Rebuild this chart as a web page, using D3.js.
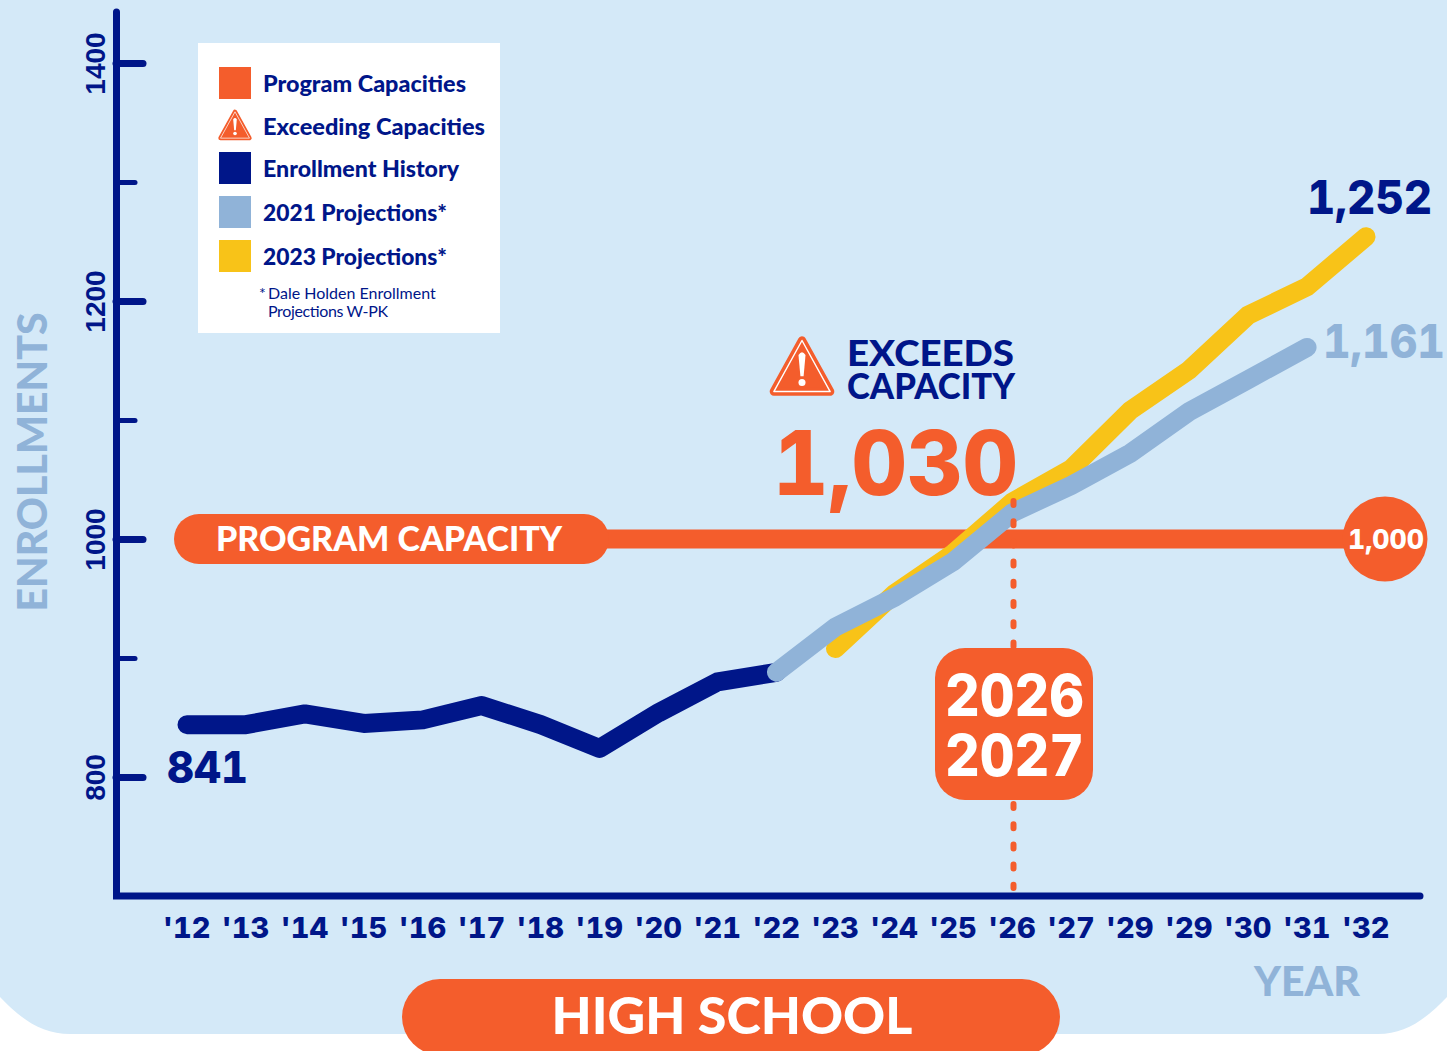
<!DOCTYPE html>
<html><head><meta charset="utf-8">
<script src="https://cdn.jsdelivr.net/npm/d3@7"></script>
<style>
html,body{margin:0;padding:0;background:#fff}
svg{display:block}
text{font-family:Lato,"Open Sans",sans-serif;font-weight:900}
.num{font-family:Inter,Lato,sans-serif;font-weight:800;font-variant-numeric:tabular-nums}
</style></head><body>
<svg id="c" width="1447" height="1051"></svg>
<script>
const yearLabels=["'12","'13","'14","'15","'16","'17","'18","'19","'20","'21","'22","'23","'24","'25","'26","'27","'29","'29","'30","'31","'32"];
const historyIdx=[0,1,2,3,4,5,6,7,8,9,10];
const historyVals=[844,844,853,845,848,860,844,824,854,880,888];
const proj2021Idx=[10,11,12,13,14,15,16,17,18,19];
const proj2021Vals=[888,926,951,981,1022,1045,1072,1107,1134,1161];
const proj2023Idx=[11,12,13,14,15,16,17,18,19,20];
const proj2023Vals=[908,954,988,1031,1059,1108,1142,1188,1212,1254];
const capacity=1000;
const majorTicks=[800,1000,1200,1400];
const minorTicks=[900,1100,1300];
const legendNames=["Program Capacities","Exceeding Capacities","Enrollment History","2021 Projections*","2023 Projections*"];
const NAVY="#001689",ORANGE="#f45d2c",LBLUE="#90b3d8",GOLD="#f8c318",BG="#d4e9f8";
const svg=d3.select("#c");
const x=d3.scaleLinear().domain([0,20]).range([187,1366]);
const y=d3.scaleLinear().domain([800,1400]).range([777,63]);
const line=d3.line().x(d=>x(d[0])).y(d=>y(d[1])).curve(d3.curveLinear);
const zip=(a,b)=>a.map((v,i)=>[v,b[i]]);

function warn(g,cx,top,s){
  const h=s*0.95,w=s/2;
  const n=g.append("g").attr("transform",`translate(${cx},${top})`);
  const tri=`M0 ${h*0.09} L${w*0.88} ${h*0.93} L${-w*0.88} ${h*0.93} Z`;
  n.append("path").attr("d",tri).attr("fill",ORANGE).attr("stroke",ORANGE).attr("stroke-width",s*0.13).attr("stroke-linejoin","round");
  n.append("path").attr("d",tri).attr("fill","none").attr("stroke","#fff").attr("stroke-width",s*0.022).attr("stroke-linejoin","round");
  n.append("path").attr("d",`M${-s*0.055} ${h*0.33} Q0 ${h*0.24} ${s*0.055} ${h*0.33} L${s*0.025} ${h*0.68} L${-s*0.025} ${h*0.68} Z`).attr("fill","#fff");
  n.append("circle").attr("cx",0).attr("cy",h*0.78).attr("r",s*0.055).attr("fill","#fff");
}
const label=(tx,ty,s,fs,fill,cls)=>svg.append("text").attr("x",tx).attr("y",ty).attr("font-size",fs).attr("fill",fill).attr("class",cls||null).text(s);
const fit=(sel,w)=>sel.attr("textLength",w).attr("lengthAdjust","spacingAndGlyphs");

// panel
svg.append("path").attr("d","M0 0H1447V997C1425 1020 1405 1034 1378 1034H70C42 1034 22 1020 0 997Z").attr("fill",BG);

// capacity
const capY=y(capacity);
svg.append("line").attr("x1",x(0)).attr("x2",x(20)).attr("y1",capY).attr("y2",capY).attr("stroke",ORANGE).attr("stroke-width",19);
svg.append("rect").attr("x",174).attr("y",capY-25).attr("width",435).attr("height",50).attr("rx",25).attr("fill",ORANGE);
label(389,capY+12,"PROGRAM CAPACITY",34,"#fff").attr("text-anchor","middle");
svg.append("circle").attr("cx",1385).attr("cy",capY).attr("r",42.5).attr("fill",ORANGE);
fit(label(1348,capY+10,"1,000",27,"#fff","num"),76);

// lines
const drawLine=(d,c,j)=>svg.append("path").attr("d",line(d)).attr("fill","none").attr("stroke",c).attr("stroke-width",19).attr("stroke-linecap","round").attr("stroke-linejoin",j);
drawLine(zip(historyIdx,historyVals),NAVY,"round");
drawLine(zip(proj2023Idx,proj2023Vals),GOLD,"miter");
drawLine(zip(proj2021Idx,proj2021Vals),LBLUE,"miter");

// dotted marker
svg.append("line").attr("x1",1013.5).attr("x2",1013.5).attr("y1",501).attr("y2",888).attr("stroke",ORANGE).attr("stroke-width",6).attr("stroke-linecap","round").attr("stroke-dasharray","4 16.2");
svg.append("rect").attr("x",935).attr("y",648).attr("width",158).attr("height",152).attr("rx",30).attr("fill",ORANGE);
fit(label(945,716,"2026",58,"#fff","num"),139);
fit(label(945,776,"2027",58,"#fff","num"),139);

// axes
const yMajor=d3.axisLeft(y).tickValues(majorTicks).tickSize(-27).tickFormat(d3.format("d"));
const yMinor=d3.axisLeft(y).tickValues(minorTicks).tickSize(-19).tickFormat("");
const gMinor=svg.append("g").attr("transform","translate(116,0)").call(yMinor);
const gMajor=svg.append("g").attr("transform","translate(116,0)").call(yMajor);
[gMinor,gMajor].forEach(g=>{g.select(".domain").remove();g.selectAll("line").attr("stroke",NAVY).attr("stroke-linecap","round");});
gMinor.selectAll("line").attr("stroke-width",5);
gMajor.selectAll("line").attr("stroke-width",7);
gMajor.selectAll("text").attr("x",0).attr("y",0).attr("dy",0).attr("transform","translate(-11,0) rotate(-90)")
  .attr("text-anchor","middle").attr("fill",NAVY).attr("font-size",28)
  .style("font-family","'Liberation Sans'").style("font-weight",700);
svg.append("path").attr("d","M116.5 12V896H1420").attr("fill","none").attr("stroke",NAVY).attr("stroke-width",7).attr("stroke-linecap","round");

const gx=svg.append("g").attr("transform","translate(-1,896)").call(d3.axisBottom(x).tickValues(d3.range(yearLabels.length)).tickSize(0).tickPadding(0).tickFormat(i=>yearLabels[i]));
gx.select(".domain").remove();
gx.selectAll("text").attr("y",42).attr("dy",0).attr("fill",NAVY).attr("font-size",29)
  .style("font-family","Inter").style("font-weight",800).style("font-variant-numeric","tabular-nums");

// axis titles
svg.append("text").attr("transform","translate(47,462) rotate(-90)").attr("text-anchor","middle").attr("fill",LBLUE).attr("font-size",41).text("ENROLLMENTS");
label(1307,996,"YEAR",41,LBLUE).attr("text-anchor","middle");

// value labels
fit(label(167,783,"841",44,NAVY,"num"),81);
fit(label(1307,214,"1,252",46,NAVY,"num"),125);
fit(label(1323,358,"1,161",46,LBLUE,"num"),122);
fit(label(773,495,"1,030",89,ORANGE,"num"),245);
fit(label(847,366,"EXCEEDS",36,NAVY),167);
fit(label(847,399,"CAPACITY",36,NAVY),168);
warn(svg,802,335,64);

// title pill
svg.append("rect").attr("x",402).attr("y",979).attr("width",658).attr("height",76).attr("rx",38).attr("fill",ORANGE);
label(732,1034,"HIGH SCHOOL",52,"#fff").attr("text-anchor","middle");

// legend
svg.append("rect").attr("x",198).attr("y",43).attr("width",302).attr("height",290).attr("fill","#fff");
const legY=[83,126,168,212,256];
const legW=[203,222,196,184,184];
const legC=[ORANGE,null,NAVY,LBLUE,GOLD];
legendNames.forEach((n,i)=>{
  if(legC[i]) svg.append("rect").attr("x",219).attr("y",legY[i]-16).attr("width",32).attr("height",32).attr("fill",legC[i]);
  else warn(svg,235,109,33);
  fit(label(263,legY[i]+9,n,23.4,NAVY),legW[i]);
});
label(259,299,"*",16,NAVY).style("font-weight",400);
label(268,299,"Dale Holden Enrollment",16,NAVY).style("font-weight",400);
label(268,317,"Projections W-PK",16,NAVY).style("font-weight",400).attr("textLength",120);
</script>
</body></html>
